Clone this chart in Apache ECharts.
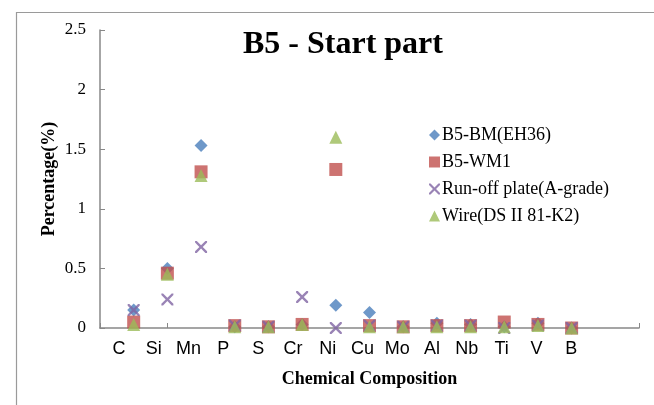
<!DOCTYPE html>
<html>
<head>
<meta charset="utf-8">
<script src="https://cdn.jsdelivr.net/npm/echarts@6/dist/echarts.min.js"></script>
<style>html,body{margin:0;padding:0;background:#fff;}#c{width:654px;height:405px;}</style>
</head>
<body>
<div id="c"></div>
<script>
const categories = ['C','Si','Mn','P','S','Cr','Ni','Cu','Mo','Al','Nb','Ti','V','B'];
const bmEH36   = [0.15, 0.50, 1.53, 0.01, 0.01, 0.03, 0.19, 0.13, 0.01, 0.04, 0.03, 0.01, 0.04, 0.00];
const wm1      = [0.05, 0.46, 1.31, 0.02, 0.01, 0.03, 1.33, 0.02, 0.01, 0.02, 0.02, 0.05, 0.03, 0.00];
const runoff   = [0.15, 0.24, 0.68, 0.02, 0.01, 0.26, 0.00, 0.02, 0.01, 0.02, 0.02, 0.00, 0.02, 0.00];
const wire     = [0.03, 0.45, 1.28, 0.01, 0.01, 0.03, 1.60, 0.01, 0.01, 0.01, 0.01, 0.01, 0.02, 0.00];
const seriesNames = ['B5-BM(EH36)','B5-WM1','Run-off plate(A-grade)','Wire(DS II 81-K2)'];
const yTicks = [0, 0.5, 1, 1.5, 2, 2.5];

const toPts = arr => arr.map((v, i) => [i + 1, v]);
const crossPath = 'path://M0,0L1.4,0L5,3.6L8.6,0L10,0L10,1.4L6.4,5L10,8.6L10,10L8.6,10L5,6.4L1.4,10L0,10L0,8.6L3.6,5L0,1.4Z';
const serif = '"Liberation Serif","Times New Roman",serif';

const chart = echarts.init(document.getElementById('c'));
chart.setOption({
  animation: false,
  backgroundColor: '#fff',
  graphic: [{
    type: 'rect', left: 14, top: 10, z: -1,
    shape: { width: 700, height: 500 },
    style: { fill: 'none', stroke: '#9a9a9a', lineWidth: 1.2 }
  }],
  title: {
    text: 'B5 - Start part', left: 238, top: 24,
    textStyle: { fontFamily: serif, fontSize: 32, fontWeight: 'bold', color: '#000' }
  },
  legend: {
    orient: 'vertical', left: 424, top: 121, itemGap: 9,
    itemWidth: 11, itemHeight: 11,
    textStyle: { fontFamily: serif, fontSize: 18, color: '#000', padding: [0, 0, 0, -3] },
    data: seriesNames
  },
  grid: [
    { left: 100, right: 15, top: 30, bottom: 77 },
    { left: 101.6, width: 487, top: 30, bottom: 77 }
  ],
  xAxis: [{
    type: 'value', gridIndex: 0, min: 0, max: 16, interval: 2,
    name: 'Chemical Composition', nameLocation: 'middle', nameGap: 42,
    nameTextStyle: { fontFamily: serif, fontSize: 18, fontWeight: 'bold', color: '#000' },
    axisLine: { lineStyle: { color: '#888', width: 1.5 } },
    axisTick: { inside: true, length: 5, lineStyle: { color: '#888' } },
    axisLabel: { show: false },
    splitLine: { show: false }
  }, {
    type: 'category', gridIndex: 1, data: categories, boundaryGap: true,
    axisLine: { show: false }, axisTick: { show: false },
    axisLabel: { margin: 12, fontFamily: '"Liberation Sans",Arial,sans-serif', fontSize: 18, color: '#000' }
  }],
  yAxis: [{
    type: 'value', gridIndex: 0, min: 0, max: 2.5, interval: 0.5,
    name: 'Percentage(%)', nameLocation: 'middle', nameGap: 42, nameMoveOverlap: false,
    nameTextStyle: { fontFamily: serif, fontSize: 18, fontWeight: 'bold', color: '#000' },
    axisLine: { show: true, lineStyle: { color: '#888', width: 1.5 } },
    axisTick: { show: true, inside: true, length: 5, lineStyle: { color: '#888' } },
    axisLabel: {
      margin: 14, fontFamily: serif, fontSize: 17, color: '#000',
      formatter: v => yTicks.includes(v) ? String(v) : ''
    },
    splitLine: { show: false }
  }, {
    type: 'value', gridIndex: 1, min: 0, max: 2.5, show: false
  }],
  series: [
    { name: seriesNames[0], type: 'scatter', data: toPts(bmEH36), symbol: 'diamond', symbolSize: 13, itemStyle: { color: '#4a7ebb' } },
    { name: seriesNames[1], type: 'scatter', data: toPts(wm1), symbol: 'rect', symbolSize: 13, itemStyle: { color: '#c0504d' } },
    { name: seriesNames[2], type: 'scatter', data: toPts(runoff), symbol: crossPath, symbolSize: 12, itemStyle: { color: '#8064a2' } },
    { name: seriesNames[3], type: 'scatter', data: toPts(wire), symbol: 'triangle', symbolSize: 13, itemStyle: { color: '#9bbb59' } }
  ]
});
</script>
</body>
</html>
